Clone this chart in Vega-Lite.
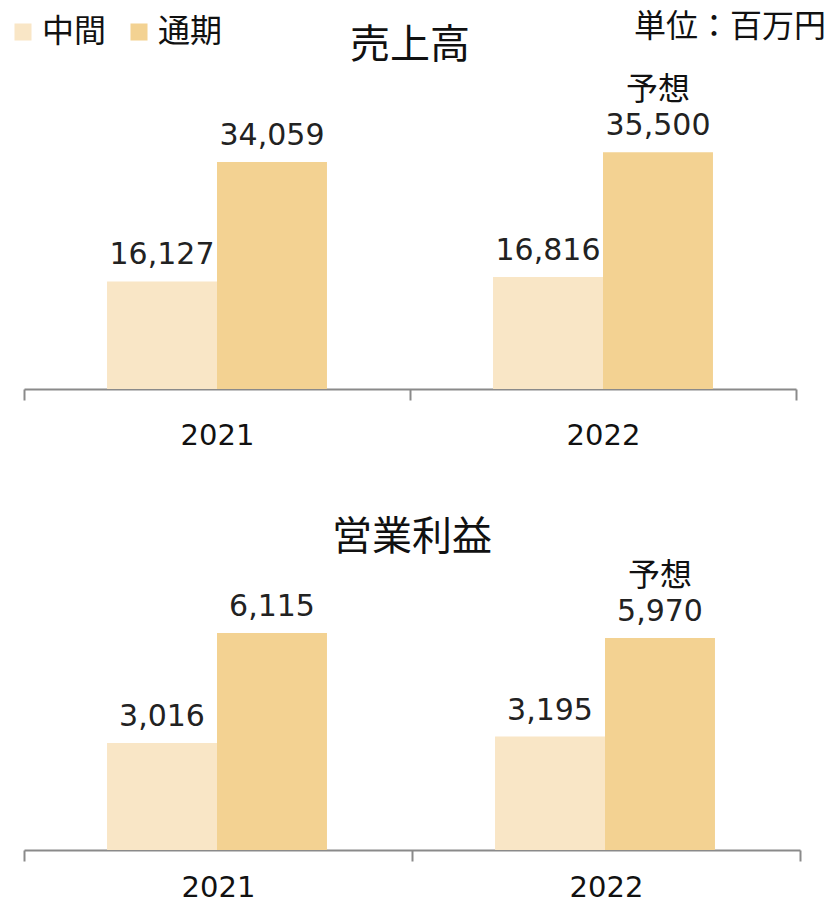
{
  "$schema": "https://vega.github.io/schema/vega-lite/v6.json",
  "background": "white",
  "padding": {"left": 7, "top": 11, "right": 0, "bottom": 0},
  "title": {"text": "単位：百万円", "anchor": "end", "fontSize": 32, "font": "Noto Sans CJK JP", "fontWeight": "normal", "color": "#111", "offset": -28, "dx": 25},
  "config": {
    "font": "DejaVu Sans",
    "view": {"stroke": null},
    "axisX": {
      "title": null, "labelAngle": 0, "labelFontSize": 29, "labelColor": "#111", "labelFont": "DejaVu Sans",
      "domainColor": "#8a8a8a", "domainWidth": 2, "tickColor": "#8a8a8a", "tickWidth": 2, "tickSize": 11,
      "tickBand": "extent"
    },
    "title": {"font": "Noto Sans CJK JP", "fontSize": 40, "fontWeight": "normal", "color": "#111", "anchor": "middle"}
  },
  "datasets": {
    "sales": [
      {"year": "2021", "type": "中間", "value": 16127, "note": ""},
      {"year": "2021", "type": "通期", "value": 34059, "note": ""},
      {"year": "2022", "type": "中間", "value": 16816, "note": ""},
      {"year": "2022", "type": "通期", "value": 35500, "note": "予想"}
    ],
    "profit": [
      {"year": "2021", "type": "中間", "value": 3016, "note": ""},
      {"year": "2021", "type": "通期", "value": 6115, "note": ""},
      {"year": "2022", "type": "中間", "value": 3195, "note": ""},
      {"year": "2022", "type": "通期", "value": 5970, "note": "予想"}
    ]
  },
  "spacing": 68,
  "vconcat": [
    {
      "width": 772, "height": 300,
      "title": {"text": "売上高", "offset": 8},
      "data": {"name": "sales"},
      "encoding": {
        "x": {"field": "year", "type": "nominal", "scale": {"paddingInner": 0, "paddingOuter": 0}, "axis": {"labelPadding": 21}},
        "xOffset": {"field": "type", "type": "nominal", "sort": ["中間", "通期"], "scale": {"paddingInner": 0, "paddingOuter": 0.755}},
        "y": {"field": "value", "type": "quantitative", "scale": {"domain": [0, 45000], "nice": false}, "axis": null}
      },
      "layer": [
        {
          "mark": {"type": "bar"},
          "encoding": {
            "color": {"field": "type", "type": "nominal", "scale": {"domain": ["中間", "通期"], "range": ["#F9E6C6", "#F3D292"]},
              "legend": {"title": null, "orient": "none", "legendX": -17, "legendY": -73, "direction": "horizontal", "symbolType": "square", "symbolSize": 290, "labelFontSize": 32, "labelFont": "Noto Sans CJK JP", "labelColor": "#111", "columnPadding": 16, "symbolStrokeWidth": 0, "labelOffset": 3}}
          }
        },
        {
          "mark": {"type": "text", "baseline": "bottom", "dy": -11, "fontSize": 30, "color": "#222"},
          "encoding": {"text": {"field": "value", "type": "quantitative", "format": ","}}
        },
        {
          "transform": [{"filter": "datum.note != ''"}],
          "mark": {"type": "text", "baseline": "bottom", "dy": -45, "fontSize": 32, "font": "Noto Sans CJK JP", "color": "#111"},
          "encoding": {"text": {"field": "note", "type": "nominal"}}
        }
      ]
    },
    {
      "width": 776, "height": 284,
      "title": {"text": "営業利益", "offset": 2},
      "data": {"name": "profit"},
      "encoding": {
        "x": {"field": "year", "type": "nominal", "scale": {"paddingInner": 0, "paddingOuter": 0}, "axis": {"labelPadding": 12}},
        "xOffset": {"field": "type", "type": "nominal", "sort": ["中間", "通期"], "scale": {"paddingInner": 0, "paddingOuter": 0.764}},
        "y": {"field": "value", "type": "quantitative", "scale": {"domain": [0, 8000], "nice": false}, "axis": null}
      },
      "layer": [
        {
          "mark": {"type": "bar"},
          "encoding": {
            "color": {"field": "type", "type": "nominal"}
          }
        },
        {
          "mark": {"type": "text", "baseline": "bottom", "dy": -11, "fontSize": 30, "color": "#222"},
          "encoding": {"text": {"field": "value", "type": "quantitative", "format": ","}}
        },
        {
          "transform": [{"filter": "datum.note != ''"}],
          "mark": {"type": "text", "baseline": "bottom", "dy": -45, "fontSize": 32, "font": "Noto Sans CJK JP", "color": "#111"},
          "encoding": {"text": {"field": "note", "type": "nominal"}}
        }
      ]
    }
  ]
}
